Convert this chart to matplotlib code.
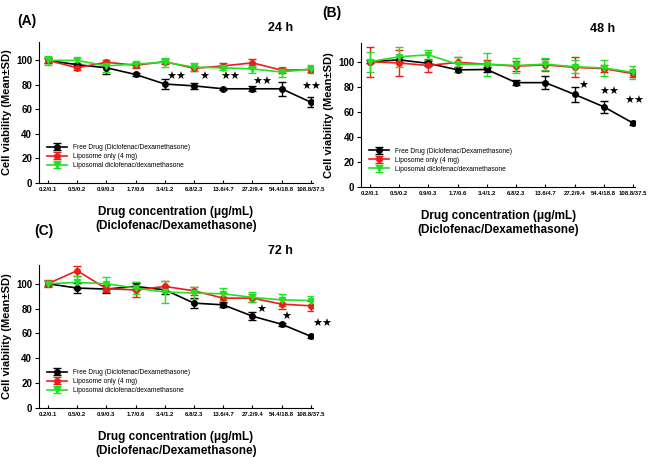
import matplotlib
matplotlib.use("Agg")
from matplotlib import pyplot as plt

plt.rcParams['font.family'] = ['Liberation Sans', 'DejaVu Sans']

conc_labels = ["0.2/0.1", "0.5/0.2", "0.9/0.3", "1.7/0.6", "3.4/1.2",
               "6.8/2.3", "13.6/4.7", "27.2/9.4", "54.4/18.8", "108.8/37.5"]
series_names = ["Free Drug (Diclofenac/Dexamethasone)",
                "Liposome only (4 mg)",
                "Liposomal diclofenac/dexamethasone"]

# 24 h
free_24 = [100, 96.5, 94, 88.5, 80.7, 79.2, 76.8, 76.8, 76.8, 65.8]
free_24_sd = [2, 1.5, 5, 1.5, 4, 2.5, 1, 2, 5.5, 4]
lipo_24 = [100, 94, 98.5, 96, 99, 93.5, 95.5, 98, 92, 92.5]
lipo_24_sd = [2, 2, 2, 2, 2, 2, 2, 3, 2, 2]
lipdrug_24 = [100, 100, 95.5, 97, 98.5, 94.5, 94, 93, 90.5, 93]
lipdrug_24_sd = [3.5, 2, 5, 2, 3.5, 3, 2, 3, 4, 3.5]
stars_24 = [(4.4, 86.4, "★★"), (5.34, 86.4, "★"), (6.23, 86.4, "★★"),
            (7.35, 82, "★★"), (9.0, 78, "★★")]

# 48 h
free_48 = [100, 101.5, 98.7, 93.5, 93.8, 83.3, 83.3, 73.9, 64, 51]
free_48_sd = [1, 2, 2, 2, 2, 2, 5, 6, 5, 1.5]
lipo_48 = [100, 99, 97, 99.5, 98, 96.5, 97.5, 95.5, 94.5, 90.5]
lipo_48_sd = [12, 10, 5, 4, 3, 4, 5, 8, 3, 3]
lipdrug_48 = [100, 104, 105.5, 98, 98, 97, 98, 96, 95, 91.5]
lipdrug_48_sd = [8, 8, 4, 6, 9, 6, 5, 5, 6, 5]
stars_48 = [(7.3, 81, "★"), (8.2, 76, "★★"), (9.05, 69, "★★")]

# 72 h
free_72 = [100, 96.5, 95.7, 97.8, 95.1, 84.4, 83, 73.9, 67.4, 57.7]
free_72_sd = [2, 4, 3, 3, 3, 4, 2, 3, 1, 1]
lipo_72 = [100, 110.5, 96, 95, 97.8, 94.3, 88.4, 88.4, 83.6, 82.2]
lipo_72_sd = [3, 4, 3, 6, 4, 3, 4, 3, 4, 4]
lipdrug_72 = [100, 101, 100, 96.5, 93.3, 92.5, 91.9, 89, 87, 86.5]
lipdrug_72_sd = [2, 5, 5, 5, 9, 5, 5, 4, 5, 4]
stars_72 = [(7.3, 79, "★"), (8.15, 73.6, "★"), (9.4, 67.4, "★★")]

colors = ["black", "#ee1c1c", "#22e022"]
markers = ["o", "o", "v"]


def draw_panel(ax, data, stars, hours):
    x = range(len(conc_labels))
    for (vals, sd), name, c, m in zip(data, series_names, colors, markers):
        ax.errorbar(x, vals, yerr=sd, color=c, marker=m, markersize=4,
                    linewidth=1.2, elinewidth=1, capsize=3, capthick=1,
                    label=name)
    for sx, sy, s in stars:
        ax.text(sx, sy, s, ha="center", va="center", fontsize=8,
                family=["DejaVu Sans"])
    ax.set_xlim(-0.3, 9.07)
    ax.set_ylim(0, 115)
    ax.set_xticks(list(x))
    ax.set_xticklabels(conc_labels, fontsize=4.3, fontweight="bold")
    ax.set_yticks([0, 20, 40, 60, 80, 100])
    ax.tick_params(axis="y", labelsize=7, direction="out", length=3, pad=2)
    ax.tick_params(axis="x", direction="in", length=2, pad=3)
    for lab in ax.get_yticklabels():
        lab.set_fontweight("bold")
    for side in ["top", "right"]:
        ax.spines[side].set_visible(False)
    ax.set_ylabel("Cell viability (Mean±SD)", fontsize=8, fontweight="bold",
                  labelpad=3)
    ax.set_xlabel("Drug concentration (μg/mL)\n(Diclofenac/Dexamethasone)",
                  fontsize=8.5, fontweight="bold", labelpad=10)
    ax.text(0.88, 1.1, hours, transform=ax.transAxes, ha="center",
            va="center", fontsize=9, fontweight="bold")
    ax.legend(loc="lower left", bbox_to_anchor=(0.02, 0.08), frameon=False,
              fontsize=4.8, handlelength=3, labelspacing=0.3, borderaxespad=0)


fig = plt.figure(figsize=(6.52, 4.57), dpi=100)
axA = fig.add_axes([0.060, 0.600, 0.420, 0.308])
axB = fig.add_axes([0.554, 0.591, 0.420, 0.315])
axC = fig.add_axes([0.060, 0.107, 0.420, 0.313])

draw_panel(axA, [(free_24, free_24_sd), (lipo_24, lipo_24_sd),
                 (lipdrug_24, lipdrug_24_sd)], stars_24, "24 h")
draw_panel(axB, [(free_48, free_48_sd), (lipo_48, lipo_48_sd),
                 (lipdrug_48, lipdrug_48_sd)], stars_48, "48 h")
draw_panel(axC, [(free_72, free_72_sd), (lipo_72, lipo_72_sd),
                 (lipdrug_72, lipdrug_72_sd)], stars_72, "72 h")

fig.text(0.027, 0.945, "(A)", fontsize=10, fontweight="bold")
fig.text(0.495, 0.962, "(B)", fontsize=10, fontweight="bold")
fig.text(0.052, 0.485, "(C)", fontsize=10, fontweight="bold")

fig.savefig("out.png", dpi=100)
plt.close()
